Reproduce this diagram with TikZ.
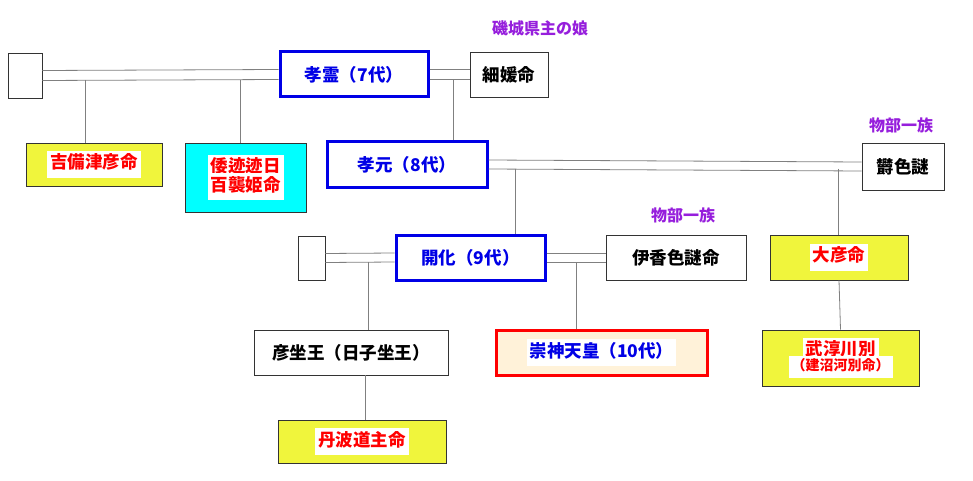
\documentclass[tikz,border=0pt]{standalone}
\usepackage{fontspec}
\setmainfont{Noto Sans CJK JP}
\usetikzlibrary{positioning}
\definecolor{tennoblue}{RGB}{0,0,230}
\definecolor{boxyellow}{RGB}{240,245,60}
\definecolor{boxcyan}{RGB}{0,255,255}
\definecolor{kinpurple}{RGB}{150,30,220}
\definecolor{boxbeige}{RGB}{255,242,217}
\newcommand{\hl}[1]{\colorbox{white}{\strut #1}}

\begin{document}
\begin{tikzpicture}[x=1pt, y=-1pt, font=\bfseries\fontsize{17.5}{20}\selectfont,
    person/.style={draw=black!80, line width=.8pt, fill=white, inner sep=0pt},
    tenno/.style={person, draw=tennoblue, line width=3pt, text=tennoblue},
    kin/.style={person, fill=boxyellow, text=red},
    note/.style={text=kinpurple, inner sep=0pt, font=\bfseries\fontsize{16}{18}\selectfont},
    link/.style={draw=gray, line width=.8pt}]
    \useasboundingbox (0,0) rectangle (973,481);
    % Personen.
    \node[person, minimum width=34pt, minimum height=45pt] (x1) at (25,75.5) {};
    \node[tenno, minimum width=148pt, minimum height=45pt] (korei) at (354,74.5) {孝霊（7代）};
    \node[person, minimum width=78pt, minimum height=45pt] (hosohime) at (509,74.5) {細媛命};
    \node[kin, minimum width=136pt, minimum height=43pt] (kibitsu) at (94,164.5) {\hl{吉備津彦命}};
    \node[kin, fill=boxcyan, minimum width=121pt, minimum height=69pt, align=center] (yamato) at (245.5,177.5) {\hl{倭迹迹日}\\[-9pt]\hl{百襲姫命}};
    \node[tenno, minimum width=160pt, minimum height=45pt] (kogen) at (407,164.5) {孝元（8代）\hspace{24pt}};
    \node[person, minimum width=82pt, minimum height=47pt] (utsushiko) at (903,166.5) {欝色謎};
    \node[person, minimum width=27pt, minimum height=44pt] (x2) at (311.5,258) {};
    \node[tenno, minimum width=149pt, minimum height=45pt] (kaika) at (470.5,257.5) {開化（9代）};
    \node[person, minimum width=140pt, minimum height=45pt] (ikagashiko) at (676,257.5) {伊香色謎命};
    \node[kin, minimum width=138pt, minimum height=45pt] (ohiko) at (839,257.5) {\hl{大彦命}};
    \node[person, minimum width=194pt, minimum height=45pt] (hikoimasu) at (351,352.5) {彦坐王（日子坐王）};
    \node[tenno, draw=red, fill=boxbeige, minimum width=211pt, minimum height=45pt] (sujin) at (601.5,352.5) {\hl{崇神天皇（10代）}\hspace{8pt}};
    \node[kin, minimum width=157pt, minimum height=56pt, align=center] (takenuna) at (840.5,358) {\hl{武淳川別}\\[-10pt]{\fontsize{14}{16}\selectfont\hl{（建沼河別命）}}};
    \node[kin, minimum width=168pt, minimum height=43pt] (tamba) at (362,441.5) {\hl{丹波道主命}};
    % Beschriftung.
    \node[note] (n1) at (540,28) {磯城県主の娘};
    \node[note] (n2) at (901,125) {物部一族};
    \node[note] (n3) at (683,215) {物部一族};
    % Linien.
    \foreach \a/\b/\d in {x1/korei/5, korei/hosohime/5, kogen/utsushiko/4.5, x2/kaika/4.5, kaika/ikagashiko/4.5}
    {
        \draw[link] ([yshift=-\d pt]\a.east) -- ([yshift=-\d pt]\b.west);
        \draw[link] ([yshift=\d pt]\a.east) -- ([yshift=\d pt]\b.west);
    }
    \coordinate (c1) at (85,80);
    \coordinate (c2) at (240,80);
    \coordinate (c3) at (453,80);
    \coordinate (c4) at (515,168.5);
    \coordinate (c5) at (838,168.5);
    \coordinate (c6) at (368,262);
    \coordinate (c7) at (576,262);
    \draw[link] (c1) -- (c1 |- kibitsu.north);
    \draw[link] (c2) -- (c2 |- yamato.north);
    \draw[link] (c3) -- (c3 |- kogen.north);
    \draw[link] (c4) -- (c4 |- kaika.north);
    \draw[link] (c5) -- (c5 |- ohiko.north);
    \draw[link] (c6) -- (c6 |- hikoimasu.north);
    \draw[link] (c7) -- (c7 |- sujin.north);
    \draw[link] (ohiko.south) -- (takenuna.north);
    \draw[link] ([xshift=14pt]hikoimasu.south) -- ([xshift=3pt]tamba.north);
\end{tikzpicture}
\end{document}
